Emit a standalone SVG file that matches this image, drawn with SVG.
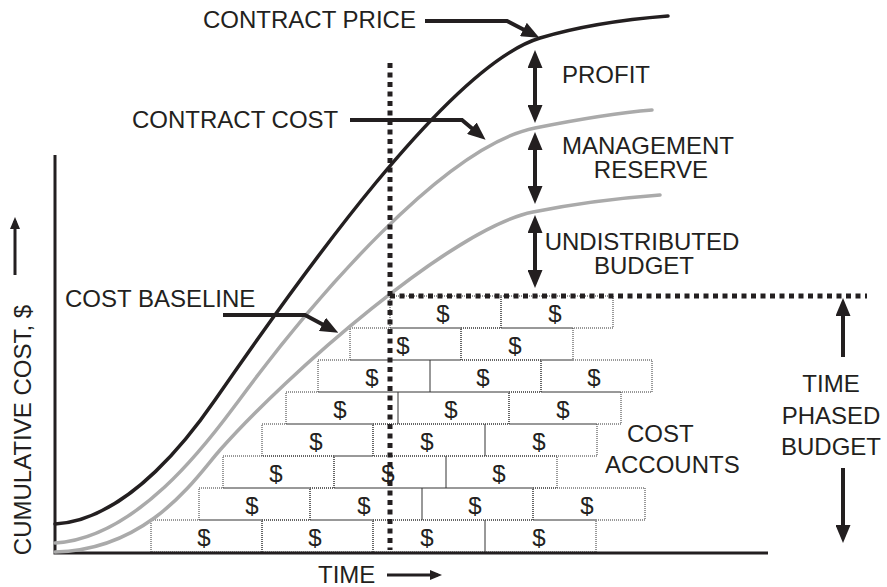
<svg xmlns="http://www.w3.org/2000/svg" width="887" height="587" viewBox="0 0 887 587">
<defs>
<style>
text{font-family:"Liberation Sans",Arial,sans-serif;font-size:24px;fill:#231f20}
.brick rect{fill:none;stroke:#333;stroke-width:1;stroke-dasharray:1 1}
.brick text{font-size:24px;text-anchor:middle}
.curve{fill:none;stroke-width:3.5;stroke-linecap:round}
.blk{stroke:#231f20}
.gry{stroke:#aaa}
.conn{fill:none;stroke:#231f20;stroke-width:4}
.thin{fill:none;stroke:#231f20;stroke-width:3}
.dots{fill:none;stroke:#231f20;stroke-width:5;stroke-dasharray:5 4.5}
.mid{text-anchor:middle}
</style>
<marker id="ah" viewBox="0 0 18 15" refX="12" refY="7.5" markerWidth="18" markerHeight="15" orient="auto-start-reverse" markerUnits="userSpaceOnUse"><path d="M0,0 L18,7.5 L0,15 z" fill="#231f20"/></marker>
<marker id="as" viewBox="0 0 12 10" refX="8" refY="5" markerWidth="12" markerHeight="10" orient="auto" markerUnits="userSpaceOnUse"><path d="M0,0 L12,5 L0,10 z" fill="#231f20"/></marker>
</defs>
<rect width="887" height="587" fill="#fff"/>

<g id="bricks" class="brick">
<rect x="390" y="296" width="111" height="32"/><text x="443" y="322">$</text>
<rect x="501" y="296" width="112" height="32"/><text x="555" y="322">$</text>
<rect x="350" y="328" width="111" height="32"/><text x="403" y="354">$</text>
<rect x="461" y="328" width="112" height="32"/><text x="515" y="354">$</text>
<rect x="318" y="360" width="112" height="32"/><text x="372" y="386">$</text>
<rect x="430" y="360" width="111" height="32"/><text x="483" y="386">$</text>
<rect x="541" y="360" width="111" height="32"/><text x="594" y="386">$</text>
<rect x="286" y="392" width="112" height="32"/><text x="340" y="418">$</text>
<rect x="398" y="392" width="111" height="32"/><text x="451" y="418">$</text>
<rect x="509" y="392" width="112" height="32"/><text x="563" y="418">$</text>
<rect x="262" y="424" width="111" height="32"/><text x="316" y="450">$</text>
<rect x="373" y="424" width="112" height="32"/><text x="427" y="450">$</text>
<rect x="485" y="424" width="112" height="32"/><text x="539" y="450">$</text>
<rect x="223" y="456" width="111" height="32"/><text x="276" y="482">$</text>
<rect x="334" y="456" width="112" height="32"/><text x="388" y="482">$</text>
<rect x="446" y="456" width="111" height="32"/><text x="499" y="482">$</text>
<rect x="199" y="488" width="111" height="32"/><text x="252" y="514">$</text>
<rect x="310" y="488" width="112" height="32"/><text x="364" y="514">$</text>
<rect x="422" y="488" width="111" height="32"/><text x="475" y="514">$</text>
<rect x="533" y="488" width="112" height="32"/><text x="587" y="514">$</text>
<rect x="151" y="520" width="111" height="32"/><text x="204" y="546">$</text>
<rect x="262" y="520" width="111" height="32"/><text x="315" y="546">$</text>
<rect x="373" y="520" width="112" height="32"/><text x="427" y="546">$</text>
<rect x="485" y="520" width="111" height="32"/><text x="539" y="546">$</text>
</g>

<g id="axes">
<path class="thin" d="M55,155 L55,553 L768,553"/>
</g>

<g id="curves">
<path id="contract-price-curve" class="curve blk" d="M55,524 C130,520 195,429 215,400 C300,277 450,65 540,38 C580,26 630,19 668,16"/>
<path id="contract-cost-curve" class="curve gry" d="M55,543 C140,538 213,435 237,403 C314,298 445,146 535,128 C575,120 615,113 652,110"/>
<path id="cost-baseline-curve" class="curve gry" d="M55,552 C150,550 197,476 220,450 C286,375 453,228 533,212 C573,204 620,198 660,195"/>
</g>

<g id="dotted-lines">
<path class="dots" d="M390,63 L390,550"/>
<path class="dots" d="M390,296 L867,296"/>
</g>

<g id="connectors">
<path class="conn" d="M425,21 L507,21 L534,35" marker-end="url(#ah)"/>
<path class="conn" d="M350,120 L462,120 L481,136" marker-end="url(#ah)"/>
<path class="conn" d="M223,315 L305,315 L333,330" marker-end="url(#ah)"/>
<path class="conn" d="M535,56 L535,117" marker-start="url(#ah)" marker-end="url(#ah)"/>
<path class="conn" d="M535,138 L535,198" marker-start="url(#ah)" marker-end="url(#ah)"/>
<path class="conn" d="M535,221 L535,282" marker-start="url(#ah)" marker-end="url(#ah)"/>
<path class="conn" d="M843,357 L843,304" marker-end="url(#ah)"/>
<path class="conn" d="M843,468 L843,537" marker-end="url(#ah)"/>
<path class="thin" d="M15,275 L15,221" marker-end="url(#as)"/>
<path class="thin" d="M387,575 L438,575" marker-end="url(#as)"/>
</g>

<g id="label-contract-price"><text x="203" y="28">CONTRACT PRICE</text></g>
<g id="label-contract-cost"><text x="132" y="128">CONTRACT COST</text></g>
<g id="label-cost-baseline"><text x="65" y="307">COST BASELINE</text></g>
<g id="label-profit"><text x="562" y="83">PROFIT</text></g>
<g id="label-management-reserve"><text class="mid" x="648" y="154">MANAGEMENT</text><text class="mid" x="651" y="178">RESERVE</text></g>
<g id="label-undistributed-budget"><text class="mid" x="642" y="250">UNDISTRIBUTED</text><text class="mid" x="644" y="274">BUDGET</text></g>
<g id="label-cost-accounts"><text x="627" y="442">COST</text><text x="605" y="473">ACCOUNTS</text></g>
<g id="label-time-phased-budget"><text class="mid" x="831" y="392">TIME</text><text class="mid" x="831" y="424">PHASED</text><text class="mid" x="831" y="455">BUDGET</text></g>
<g id="label-y-axis"><text class="mid" transform="translate(31,430) rotate(-90)">CUMULATIVE COST, $</text></g>
<g id="label-x-axis"><text x="318" y="583">TIME</text></g>
</svg>
